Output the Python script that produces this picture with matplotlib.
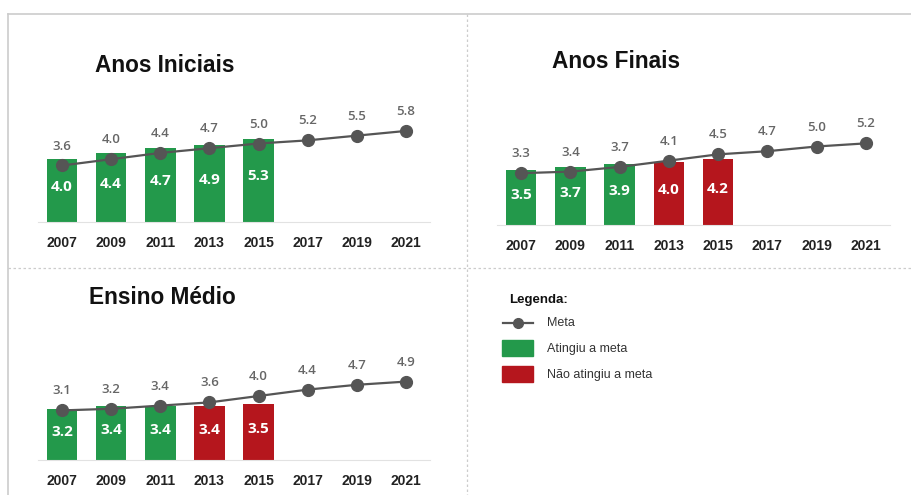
import matplotlib
matplotlib.use("Agg")
import matplotlib.pyplot as plt
from matplotlib.lines import Line2D
from matplotlib.patches import Rectangle

years = ['2007', '2009', '2011', '2013', '2015', '2017', '2019', '2021']
ai_obs = [4.0, 4.4, 4.7, 4.9, 5.3]
ai_meta = [3.6, 4.0, 4.4, 4.7, 5.0, 5.2, 5.5, 5.8]
af_obs = [3.5, 3.7, 3.9, 4.0, 4.2]
af_meta = [3.3, 3.4, 3.7, 4.1, 4.5, 4.7, 5.0, 5.2]
em_obs = [3.2, 3.4, 3.4, 3.4, 3.5]
em_meta = [3.1, 3.2, 3.4, 3.6, 4.0, 4.4, 4.7, 4.9]
titles = ['Anos Iniciais', 'Anos Finais', 'Ensino Médio']

GREEN = '#23994b'
RED = '#b5161d'
GRAY = '#555555'
LABEL = '#666666'

W, H = 912, 495
fig = plt.figure(figsize=(W / 100, H / 100), dpi=100)
fig.patch.set_facecolor('white')

# background pixel-coordinate axes for frame and legend
bg = fig.add_axes([0, 0, 1, 1], zorder=0)
bg.set_xlim(0, W)
bg.set_ylim(H, 0)
bg.axis('off')
bg.plot([8, W], [14, 14], color='#cccccc', lw=1.2)
bg.plot([8, 8], [14, H], color='#cccccc', lw=1.2)
bg.plot([8, W], [268, 268], color='#cccccc', lw=0.9, ls=(0, (2, 2)))
bg.plot([467, 467], [14, H], color='#cccccc', lw=0.9, ls=(0, (2, 2)))


def px_axes(left, right, baseline, top):
    return fig.add_axes([left / W, 1 - baseline / H, (right - left) / W, (baseline - top) / H], zorder=1)


def panel(ax, obs, meta, title, tx, ty):
    x = list(range(len(years)))
    cols = [GREEN if o >= m else RED for o, m in zip(obs, meta)]
    ax.bar(x[:len(obs)], obs, width=0.62, color=cols, zorder=2)
    for i, o in enumerate(obs):
        ax.text(i, o * 0.55, f'{o:.1f}', ha='center', va='center', color='white',
                fontsize=11, fontweight='bold', family='Open Sans', zorder=3)
    ax.plot(x, meta, color=GRAY, lw=1.6, marker='o', ms=8.5, zorder=4)
    for i, m in enumerate(meta):
        ax.annotate(f'{m:.1f}', (i, m), xytext=(0, 14), textcoords='offset points',
                    ha='center', va='center', color=LABEL, fontsize=9.5,
                    fontweight='semibold', family='Open Sans')
    ax.set_xlim(-0.5, 7.5)
    ax.set_ylim(0, 7)
    ax.set_xticks(x)
    ax.set_xticklabels(years, fontsize=10, fontweight='bold', family='Liberation Sans', color='#222222')
    ax.tick_params(axis='x', length=0, pad=10)
    ax.set_yticks([])
    for s in ['top', 'right', 'left']:
        ax.spines[s].set_visible(False)
    ax.spines['bottom'].set_color('#e2e2e2')
    ax.patch.set_alpha(0)
    fig.text(tx / W, 1 - ty / H, title, ha='center', va='center', fontsize=16.3,
             fontweight='bold', family='Liberation Sans', color='#111111')


ax1 = px_axes(37.5, 430.5, 222, 222 - 7 * 15.7)
panel(ax1, ai_obs, ai_meta, titles[0], 165, 65)
ax2 = px_axes(496.5, 890.5, 225, 225 - 7 * 15.7)
panel(ax2, af_obs, af_meta, titles[1], 616, 61)
ax3 = px_axes(37.5, 430.5, 460, 460 - 7 * 16.0)
panel(ax3, em_obs, em_meta, titles[2], 162, 298)

# legend
bg.text(509, 300, 'Legenda:', fontsize=9.5, fontweight='bold', family='Liberation Sans',
        ha='left', va='center', color='#111111')
bg.add_line(Line2D([503, 533], [323, 323], color=GRAY, lw=1.6, marker=None))
bg.plot([518], [323], marker='o', ms=7, color=GRAY)
bg.add_patch(Rectangle((502, 340), 31, 16, color=GREEN))
bg.add_patch(Rectangle((502, 366), 31, 16, color=RED))
for y, t in [(323, 'Meta'), (349, 'Atingiu a meta'), (375, 'Não atingiu a meta')]:
    bg.text(547, y, t, fontsize=9, family='Liberation Sans', ha='left', va='center', color='#333333')

fig.savefig('out.png', dpi=100, facecolor='white')
